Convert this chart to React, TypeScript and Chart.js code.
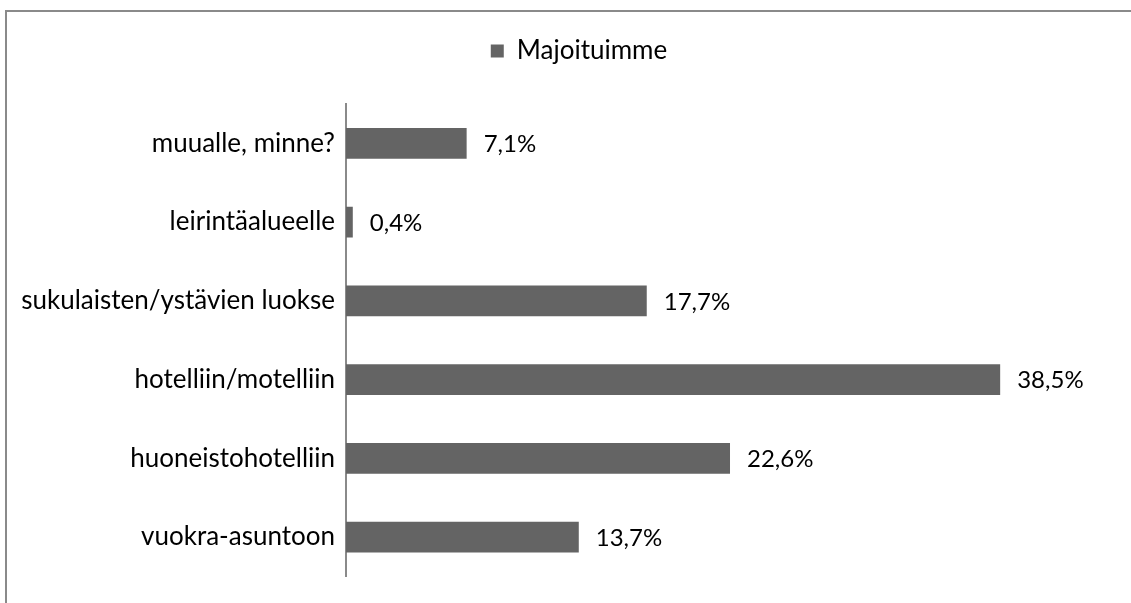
import React, { useEffect, useRef } from "react";
import { Chart, registerables } from "chart.js";

Chart.register(...registerables);

const categories = [
  "muualle, minne?",
  "leirintäalueelle",
  "sukulaisten/ystävien luokse",
  "hotelliin/motelliin",
  "huoneistohotelliin",
  "vuokra-asuntoon",
];
const values = [7.1, 0.4, 17.7, 38.5, 22.6, 13.7];
const valueLabels = ["7,1%", "0,4%", "17,7%", "38,5%", "22,6%", "13,7%"];
const seriesName = "Majoituimme";
const axisMax = 46.2;

const FONT = "Lato, 'Open Sans', sans-serif";

export default function App() {
  const ref = useRef<HTMLCanvasElement>(null);
  useEffect(() => {
    const canvas = ref.current!;
    const borderPlugin = {
      id: "frame",
      beforeDraw(chart: any) {
        const ctx = chart.ctx;
        ctx.save();
        ctx.strokeStyle = "#8a8a8a";
        ctx.lineWidth = 2;
        ctx.beginPath();
        ctx.moveTo(6, 603);
        ctx.lineTo(6, 11);
        ctx.lineTo(1131, 11);
        ctx.stroke();
        ctx.restore();
      },
    };
    const labelPlugin = {
      id: "valueLabels",
      afterDatasetsDraw(chart: any) {
        const ctx = chart.ctx;
        const meta = chart.getDatasetMeta(0);
        ctx.save();
        ctx.fillStyle = "#000";
        ctx.font = `24px ${FONT}`;
        ctx.textBaseline = "middle";
        ctx.textAlign = "left";
        meta.data.forEach((bar: any, i: number) => {
          ctx.fillText(valueLabels[i], bar.x + 17, bar.y + 1);
        });
        ctx.restore();
      },
    };
    const chart = new Chart(canvas, {
      type: "bar",
      data: {
        labels: categories,
        datasets: [
          {
            label: seriesName,
            data: values,
            backgroundColor: "#646464",
            borderWidth: 0,
            categoryPercentage: 1,
            barPercentage: 0.39,
          },
        ],
      },
      options: {
        indexAxis: "y",
        animation: false,
        responsive: false,
        layout: { padding: { top: 26, right: -27, bottom: 13, left: 0 } },
        plugins: {
          legend: {
            display: true,
            position: "top",
            labels: {
              boxWidth: 13,
              boxHeight: 13,
              color: "#000",
              font: { size: 26, family: FONT },
              padding: 12,
            },
          },
          title: {
            display: true,
            text: "",
            weight: 500,
            font: { size: 10, lineHeight: 1 },
            padding: { top: 0, bottom: 20 },
          },
          tooltip: { enabled: false },
        },
        scales: {
          x: { display: false, min: 0, max: axisMax },
          y: {
            afterFit: (s: any) => {
              s.width = 346;
            },
            grid: { display: false, drawTicks: false },
            border: { display: true, color: "#8a8a8a", width: 2 },
            ticks: {
              color: "#000",
              font: { size: 26, family: FONT },
              padding: 11,
            },
          },
        },
      },
      plugins: [borderPlugin, labelPlugin],
    });
    return () => chart.destroy();
  }, []);
  return (
    <div style={{ position: "fixed", left: 0, top: 0, width: 1131, height: 603, background: "#fff" }}>
      <canvas ref={ref} width={1131} height={603} />
    </div>
  );
}
